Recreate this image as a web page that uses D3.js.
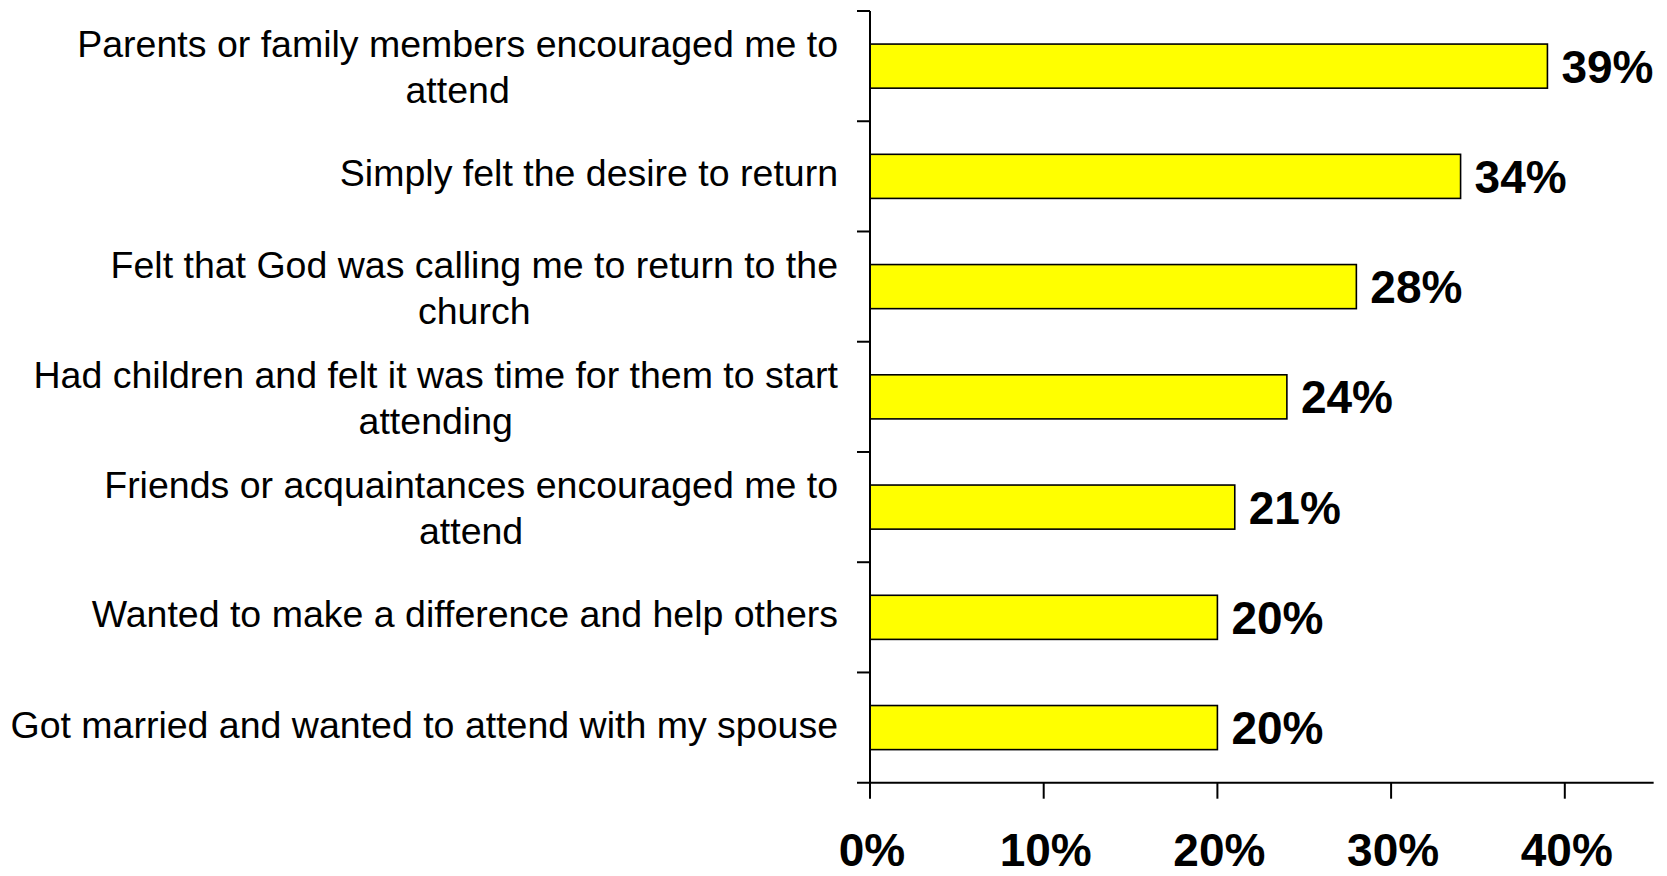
<!DOCTYPE html>
<html>
<head>
<meta charset="utf-8">
<script src="https://cdn.jsdelivr.net/npm/d3@7"></script>
<style>
  html, body { margin: 0; padding: 0; background: #fff; }
  svg { display: block; }
  text { font-family: "Liberation Sans", Arial, sans-serif; fill: #000; }
</style>
</head>
<body>
<svg id="chart" width="1667" height="876"></svg>
<script>
// ---- data ----
const categories = [
  "Parents or family members encouraged me to attend",
  "Simply felt the desire to return",
  "Felt that God was calling me to return to the church",
  "Had children and felt it was time for them to start attending",
  "Friends or acquaintances encouraged me to attend",
  "Wanted to make a difference and help others",
  "Got married and wanted to attend with my spouse"
];
const labelLines = [
  ["Parents or family members encouraged me to", "attend"],
  ["Simply felt the desire to return"],
  ["Felt that God was calling me to return to the", "church"],
  ["Had children and felt it was time for them to start", "attending"],
  ["Friends or acquaintances encouraged me to", "attend"],
  ["Wanted to make a difference and help others"],
  ["Got married and wanted to attend with my spouse"]
];
const values = [39, 34, 28, 24, 21, 20, 20];
const xTicks = [0, 10, 20, 30, 40];
const xTickLabels = ["0%", "10%", "20%", "30%", "40%"];

// ---- layout ----
const svg = d3.select("#chart");
const plotLeft = 870, plotTop = 11, plotBottom = 782.7;

const x = d3.scaleLinear().domain([0, 45]).range([plotLeft, plotLeft + 45 * 17.37]);
const yCat = d3.scaleBand().domain(categories).range([plotTop, plotBottom]).paddingInner(0).paddingOuter(0);
const step = yCat.step();
const barH = step * 0.4;

// bars
svg.append("g").selectAll("rect").data(categories).join("rect")
  .attr("x", x(0))
  .attr("y", d => yCat(d) + (step - barH) / 2)
  .attr("width", (d, i) => x(values[i]) - x(0))
  .attr("height", barH)
  .attr("fill", "#ffff00")
  .attr("stroke", "#000")
  .attr("stroke-width", 1.6);

// value labels
svg.append("g").selectAll("text").data(categories).join("text")
  .attr("x", (d, i) => x(values[i]) + 14)
  .attr("y", d => yCat(d) + step / 2 + 16.5)
  .attr("font-size", 46)
  .attr("font-weight", "bold")
  .text((d, i) => values[i] + "%");

// y axis line + ticks at band boundaries
const yAxisG = svg.append("g");
yAxisG.append("line")
  .attr("x1", x(0)).attr("x2", x(0))
  .attr("y1", plotTop).attr("y2", plotBottom)
  .attr("stroke", "#000").attr("stroke-width", 2);
const boundaries = categories.map(c => yCat(c));
yAxisG.selectAll("line.tick").data(boundaries).join("line")
  .attr("class", "tick")
  .attr("x1", x(0) - 13).attr("x2", x(0))
  .attr("y1", d => d).attr("y2", d => d)
  .attr("stroke", "#000").attr("stroke-width", 2);

// x axis
const xAxisG = svg.append("g").attr("transform", `translate(0,${plotBottom})`);
xAxisG.append("line")
  .attr("x1", x(0) - 13).attr("x2", x.range()[1] + 2)
  .attr("y1", 0).attr("y2", 0)
  .attr("stroke", "#000").attr("stroke-width", 2);
xAxisG.selectAll("line.tick").data(xTicks).join("line")
  .attr("class", "tick")
  .attr("x1", d => x(d)).attr("x2", d => x(d))
  .attr("y1", 0).attr("y2", 16)
  .attr("stroke", "#000").attr("stroke-width", 2);
xAxisG.selectAll("text").data(xTicks).join("text")
  .attr("x", d => x(d) + 2)
  .attr("y", 83)
  .attr("text-anchor", "middle")
  .attr("font-size", 46)
  .attr("font-weight", "bold")
  .text((d, i) => xTickLabels[i]);

// category labels: block right-aligned, lines centered within block
const labelRight = 838;
const lineH = 46;
const catG = svg.append("g");
categories.forEach((c, i) => {
  const lines = labelLines[i];
  const cy = yCat(c) + step / 2;
  const g = catG.append("g");
  const texts = lines.map((ln, j) => {
    const base = lines.length === 1 ? cy + 10 : cy + 14 + (j - 0.5) * lineH;
    return g.append("text")
      .attr("y", base)
      .attr("font-size", 37.5)
      .attr("text-anchor", "middle")
      .text(ln);
  });
  const maxW = d3.max(texts, t => t.node().getComputedTextLength());
  texts.forEach(t => t.attr("x", labelRight - maxW / 2));
});
</script>
</body>
</html>
